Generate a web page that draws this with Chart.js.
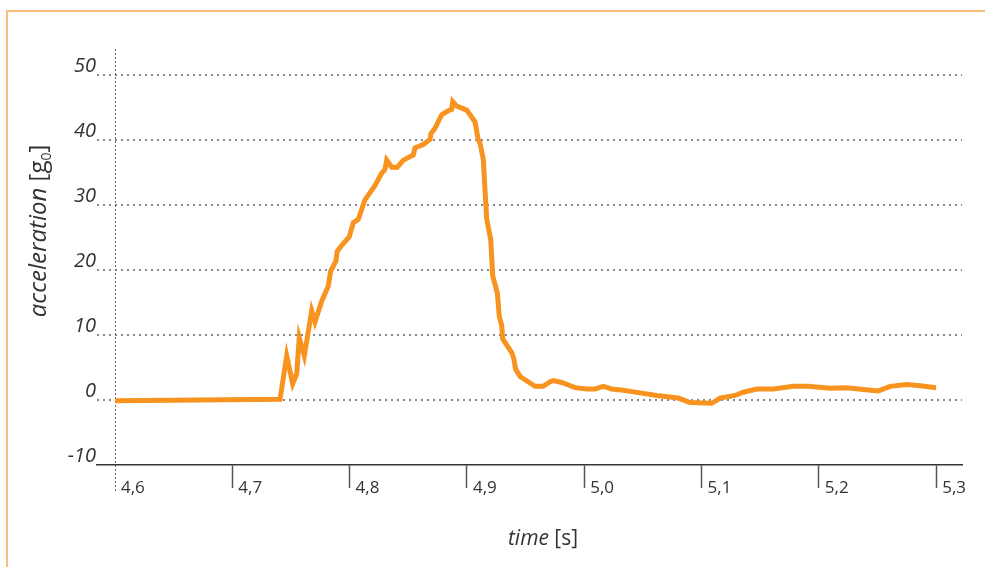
<!DOCTYPE html>
<html>
<head>
<meta charset="utf-8">
<script src="https://cdn.jsdelivr.net/npm/chart.js@4/dist/chart.umd.min.js"></script>
<style>
  html, body { margin: 0; padding: 0; background: #fff; }
  #wrap { position: relative; width: 985px; height: 567px; overflow: hidden; }
  #frame { position: absolute; left: 6px; top: 10px; width: 990px; height: 600px;
           border-left: 2px solid #fbbd80; border-top: 2px solid #fbbd80; box-sizing: border-box; }
  canvas { position: absolute; left: 0; top: 0; }
</style>
</head>
<body>
<div id="wrap">
  <div id="frame"></div>
  <canvas id="c" width="985" height="567"></canvas>
</div>
<script>
// time [s]
const times = [4.600, 4.7407, 4.7464, 4.7515, 4.7549, 4.7571, 4.7614, 4.7677, 4.7705, 4.7762,
  4.7818, 4.7838, 4.7884, 4.7895, 4.7933, 4.7997, 4.8032, 4.8074, 4.8131, 4.8217,
  4.8274, 4.8302, 4.8316, 4.8359, 4.8407, 4.8458, 4.8543, 4.8558, 4.8628, 4.8685,
  4.8694, 4.8728, 4.8785, 4.8841, 4.8870, 4.8879, 4.8913, 4.8998, 4.9069, 4.9097,
  4.9112, 4.9140, 4.9154, 4.9169, 4.9203, 4.9220, 4.9259, 4.9276, 4.9297, 4.9305,
  4.9353, 4.9382, 4.9401, 4.9414, 4.9453, 4.9581, 4.9651, 4.9708, 4.9737, 4.9808,
  4.9922, 5.0021, 5.0092, 5.0163, 5.0234, 5.0333, 5.0476, 5.0618, 5.0802, 5.0902,
  5.1087, 5.1158, 5.1286, 5.1356, 5.1471, 5.1612, 5.1783, 5.1910, 5.2095, 5.2238,
  5.2379, 5.2507, 5.2607, 5.2749, 5.2863, 5.2999];
// acceleration [g0]
const accel = [-0.1, 0.1, 6.8, 2.5, 4.0, 9.6, 6.8, 13.7, 12.0, 15.2,
  17.5, 19.8, 21.4, 22.9, 23.8, 25.1, 27.3, 27.8, 30.8, 33.0,
  34.9, 35.5, 36.9, 35.8, 35.8, 36.9, 37.7, 38.8, 39.3, 40.1,
  41.0, 41.8, 43.9, 44.5, 44.7, 45.9, 45.2, 44.6, 42.8, 40.0,
  39.5, 37.0, 32.4, 27.8, 24.7, 19.1, 16.5, 12.9, 11.4, 9.4,
  8.1, 7.3, 6.3, 4.8, 3.6, 2.1, 2.1, 2.8, 3.0, 2.7,
  1.9, 1.7, 1.7, 2.1, 1.7, 1.5, 1.1, 0.7, 0.3, -0.4,
  -0.5, 0.3, 0.7, 1.2, 1.7, 1.7, 2.1, 2.1, 1.8, 1.9,
  1.6, 1.4, 2.1, 2.4, 2.2, 1.9];
const xTicks = [4.6, 4.7, 4.8, 4.9, 5.0, 5.1, 5.2, 5.3];
const yTicks = [-10, 0, 10, 20, 30, 40, 50];
const xTitleItalic = 'time', xTitleUnit = '[s]';
const yTitleItalic = 'acceleration', yTitleUnit = 'g', yTitleSub = '0';

const FONT = '"Open Sans", "Noto Sans", sans-serif';
const pts = times.map((t, i) => ({x: t, y: accel[i]}));

const extras = {
  id: 'extras',
  beforeDatasetsDraw(chart) {
    const {ctx, chartArea, scales} = chart;
    const x0 = scales.x.getPixelForValue(xTicks[0]);
    ctx.save();
    ctx.strokeStyle = '#666';
    ctx.lineWidth = 1;
    ctx.setLineDash([2, 2]);
    ctx.beginPath();
    ctx.moveTo(Math.round(x0) + 0.5, chartArea.top);
    ctx.lineTo(Math.round(x0) + 0.5, chartArea.bottom + 28);
    ctx.stroke();
    ctx.restore();
  },
  afterDraw(chart) {
    const {ctx} = chart;
    ctx.save();
    ctx.fillStyle = '#333';
    ctx.textBaseline = 'alphabetic';
    // x title
    const fi = 'italic 21px ' + FONT, fn = '21px ' + FONT;
    ctx.font = fi; const w1 = ctx.measureText(xTitleItalic + ' ').width;
    ctx.font = fn; const w2 = ctx.measureText(xTitleUnit).width;
    let sx = 543 - (w1 + w2) / 2;
    ctx.font = fi; ctx.fillText(xTitleItalic + ' ', sx, 545);
    ctx.font = fn; ctx.fillText(xTitleUnit, sx + w1, 545);
    // y title
    const yi = 'italic 24px ' + FONT, yn = '24px ' + FONT, ys = '14px ' + FONT;
    ctx.translate(46, 231);
    ctx.rotate(-Math.PI / 2);
    ctx.font = yi; const a = ctx.measureText(yTitleItalic + ' ').width;
    ctx.font = yn; const b = ctx.measureText('[' + yTitleUnit).width;
    ctx.font = ys; const c = ctx.measureText(yTitleSub).width;
    ctx.font = yn; const d = ctx.measureText(']').width;
    let p = -(a + b + c + d) / 2;
    ctx.font = yi; ctx.fillText(yTitleItalic + ' ', p, 0); p += a;
    ctx.font = yn; ctx.fillText('[' + yTitleUnit, p, 0); p += b;
    ctx.font = ys; ctx.fillText(yTitleSub, p, 5); p += c;
    ctx.font = yn; ctx.fillText(']', p, 0);
    ctx.restore();
  }
};

new Chart(document.getElementById('c'), {
  type: 'line',
  data: {
    datasets: [{
      data: pts,
      borderColor: '#f7931e',
      borderWidth: 5,
      pointRadius: 0,
      tension: 0,
      fill: false
    }]
  },
  options: {
    responsive: false,
    animation: false,
    layout: { padding: { left: 0, top: 49, right: 23, bottom: 0 } },
    plugins: { legend: { display: false }, tooltip: { enabled: false } },
    scales: {
      x: {
        type: 'linear',
        min: 4.5847,
        max: 5.322,
        afterBuildTicks(s) { s.ticks = xTicks.map(v => ({value: v})); },
        afterFit(s) { s.height = 102; },
        grid: {
          drawOnChartArea: false,
          drawTicks: true,
          tickLength: 23,
          tickColor: (ctx) => ctx.index === 0 ? 'rgba(0,0,0,0)' : '#555',
          tickWidth: 1.5
        },
        border: { display: true, color: '#333', width: 1.5 },
        ticks: {
          align: 'start',
          labelOffset: 6,
          padding: -10,
          color: '#333',
          font: { family: FONT, size: 17 },
          callback: (v) => Number(v).toFixed(1).replace('.', ',')
        }
      },
      y: {
        min: -10,
        max: 54,
        afterBuildTicks(s) { s.ticks = yTicks.map(v => ({value: v})); },
        afterFit(s) { s.width = 97; },
        grid: {
          drawTicks: false,
          color: (ctx) => (ctx.tick && ctx.tick.value === -10) ? 'rgba(0,0,0,0)' : '#888',
          lineWidth: 2
        },
        border: { display: false, dash: [2, 4] },
        ticks: {
          padding: 1,
          labelOffset: -9,
          color: '#333',
          font: { family: FONT, size: 20, style: 'italic' },
          callback: (v) => String(v)
        }
      }
    }
  },
  plugins: [extras]
});
</script>
</body>
</html>
